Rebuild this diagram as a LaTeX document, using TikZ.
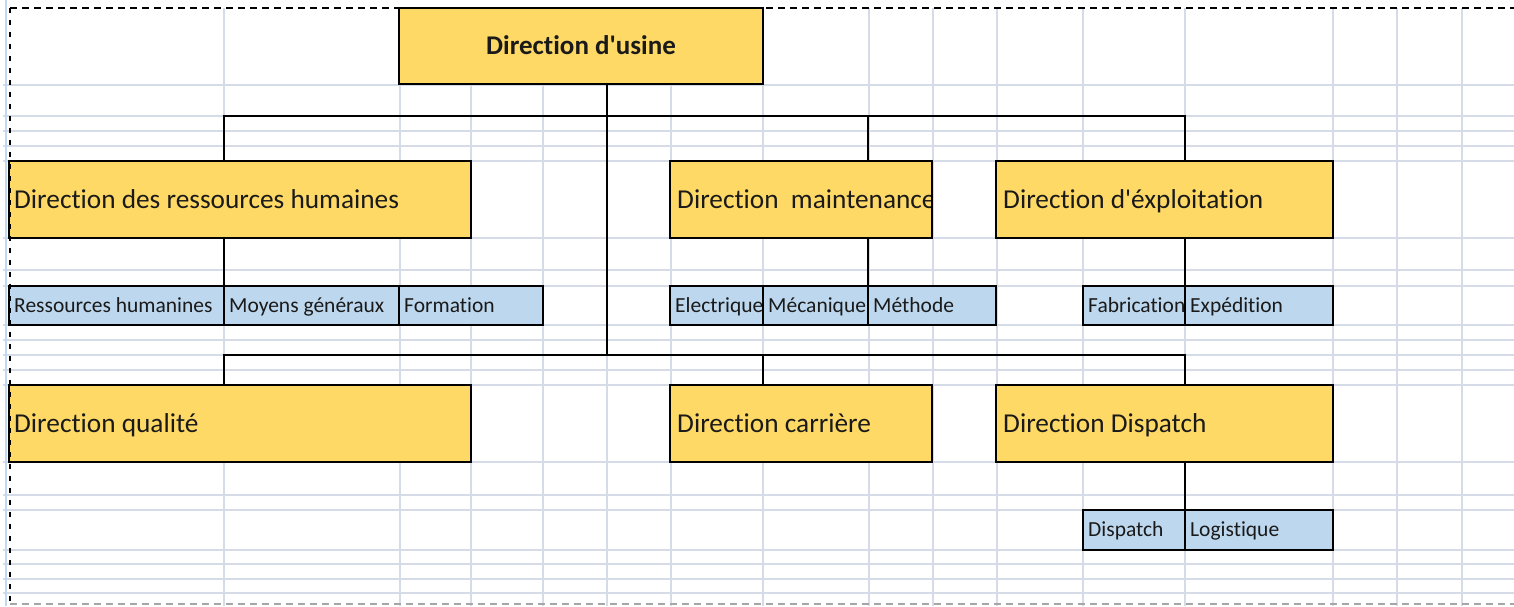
\documentclass[tikz,border=0pt]{standalone}
\usepackage{fontspec}
\newfontfamily\xlfont{Carlito}[Ligatures={NoCommon}]
\usetikzlibrary{calc}
\definecolor{gold}{HTML}{FFD966}
\definecolor{lblue}{HTML}{BDD7EE}
\definecolor{gridc}{HTML}{D5DBE7}
\definecolor{txt}{HTML}{1A1A1A}
\newcommand\cellbox[8]{%
  \node[#2, minimum width={(#5-#3)*1pt}, minimum height={(#6-#4)*1pt}] (#1) at ({(#3+#5)/2},{(#4+#6)/2}) {};
  \begin{scope}
    \clip (#3,#4) rectangle (#5,#6);
    \node[#8] at (#1.west) {#7};
  \end{scope}
  \draw[boxline] (#1.south west) rectangle (#1.north east);
}
\begin{document}
\begin{tikzpicture}[x=1pt,y=-1pt,
  ybox/.style={fill=gold, inner sep=0pt, outer sep=0pt},
  bbox/.style={fill=lblue, inner sep=0pt, outer sep=0pt},
  boxline/.style={draw=black, line width=2.6pt},
  bigtxt/.style={anchor=base west, inner sep=0pt, text=txt, font=\xlfont\fontsize{27.3}{27}\selectfont, xshift=7pt, yshift=-8.7pt},
  bigtxtl/.style={bigtxt, xshift=-2pt},
  smalltxt/.style={anchor=base west, inner sep=0pt, text=txt, font=\xlfont\fontsize{21.5}{21}\selectfont, xshift=5pt, yshift=-6.8pt},
  conn/.style={draw=black, line width=2.6pt},
  gridl/.style={draw=gridc, line width=1.5pt}]
\useasboundingbox (0,0) rectangle (1514,606);
\fill[white] (0,0) rectangle (1514,606);
% spreadsheet grid
\foreach \yy in {85,116,131,146,161,238,270,286,325,340,355,370,385,462,495,510,550,564,579,593}
  \draw[gridl] (3,\yy) -- (1514,\yy);
\foreach \xx in {224,400,471,543,607,671,763,869,933,997,1083,1185,1333,1397,1462}
  \draw[gridl] (\xx,8) -- (\xx,606);
\draw[draw=lblue!80!gridc, line width=2.5pt] (6,0) -- (6,606);
% boxes
\cellbox{usine}{ybox}{399}{8}{763}{84}{}{bigtxt}
\node[anchor=base, inner sep=0pt, text=txt, font=\xlfont\fontsize{27}{27}\selectfont\bfseries, yshift=-8pt] (usinetxt) at (usine.center) {Direction d'usine};
\cellbox{rh}{ybox}{9}{161}{471}{238}{Direction des ressources humaines}{bigtxtl}
\cellbox{maint}{ybox}{670}{161}{932}{238}{Direction\ \ maintenance}{bigtxt}
\cellbox{expl}{ybox}{996}{161}{1333}{238}{Direction d'éxploitation}{bigtxt}
\cellbox{qual}{ybox}{9}{385}{471}{462}{Direction qualité}{bigtxtl}
\cellbox{carr}{ybox}{670}{385}{932}{462}{Direction carrière}{bigtxt}
\cellbox{dispd}{ybox}{996}{385}{1333}{462}{Direction Dispatch}{bigtxt}
\cellbox{srh}{bbox}{9}{286}{224}{325}{Ressources humanines}{smalltxt}
\cellbox{moy}{bbox}{224}{286}{399}{325}{Moyens généraux}{smalltxt}
\cellbox{form}{bbox}{399}{286}{543}{325}{Formation}{smalltxt}
\cellbox{elec}{bbox}{670}{286}{763}{325}{Electrique}{smalltxt}
\cellbox{meca}{bbox}{763}{286}{868}{325}{Mécanique}{smalltxt}
\cellbox{meth}{bbox}{868}{286}{996}{325}{Méthode}{smalltxt}
\cellbox{fab}{bbox}{1083}{286}{1185}{325}{Fabrication}{smalltxt}
\cellbox{exped}{bbox}{1185}{286}{1333}{325}{Expédition}{smalltxt}
\cellbox{disp}{bbox}{1083}{510}{1185}{550}{Dispatch}{smalltxt}
\cellbox{logi}{bbox}{1185}{510}{1333}{550}{Logistique}{smalltxt}
% connector junctions
\coordinate (m1) at (607,116);
\coordinate (m2) at (607,355);
\coordinate (t1) at (224,116);
\coordinate (t2) at (868,116);
\coordinate (t3) at (1185,116);
\coordinate (b1) at (224,355);
\coordinate (b2) at (763,355);
\coordinate (b3) at (1185,355);
\draw[conn] (m1 |- usine.south) -- (m2);
\draw[conn] (t1 |- rh.north) -- (t1) -- (t3) -- (t3 |- expl.north);
\draw[conn] (t2) -- (t2 |- maint.north);
\draw[conn] (b1 |- qual.north) -- (b1) -- (b3) -- (b3 |- dispd.north);
\draw[conn] (b2) -- (b2 |- carr.north);
\draw[conn] (t1 |- rh.south) -- (t1 |- moy.north);
\draw[conn] (t2 |- maint.south) -- (t2 |- meth.north);
\draw[conn] (t3 |- expl.south) -- (t3 |- exped.north);
\draw[conn] (t3 |- dispd.south) -- (t3 |- logi.north);
% page-break dashed borders
\draw[black, line width=1.8pt, dash pattern=on 7pt off 5pt] (10,8) -- (1514,8);
\draw[black, line width=1.8pt, dash pattern=on 5pt off 7pt] (10,8) -- (10,604);
\draw[gray!70, line width=1.5pt, dash pattern=on 7pt off 5pt] (10,604) -- (1514,604);
\end{tikzpicture}
\end{document}
